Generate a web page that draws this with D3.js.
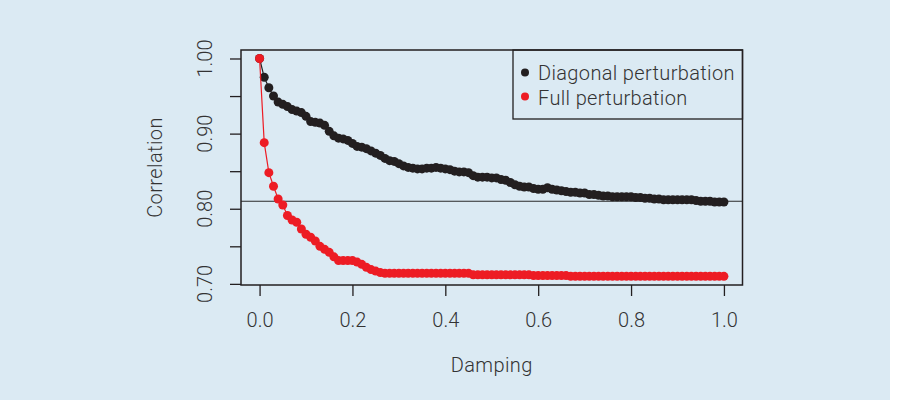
<!DOCTYPE html>
<meta charset="utf-8">
<script src="https://d3js.org/d3.v7.min.js"></script>
<style>
body{ margin:0; background:#fff; }
#chart text{ font-family: Roboto, sans-serif; font-weight:300; fill:#333; }
</style>
<div id="chart"></div>
<script>
// damping steps 0.00 .. 1.00
var damping = d3.range(0, 101).map(function(i){ return i / 100; });

var diagonal = [1.000, 0.975, 0.961, 0.950, 0.942, 0.939, 0.936, 0.932, 0.930, 0.928,
  0.923, 0.916, 0.915, 0.914, 0.911, 0.903, 0.897, 0.894, 0.893, 0.891,
  0.887, 0.883, 0.882, 0.880, 0.877, 0.874, 0.871, 0.867, 0.864, 0.863,
  0.860, 0.857, 0.855, 0.854, 0.853, 0.853, 0.854, 0.854, 0.855, 0.854,
  0.853, 0.852, 0.850, 0.849, 0.849, 0.848, 0.844, 0.842, 0.842, 0.842,
  0.841, 0.841, 0.839, 0.838, 0.835, 0.832, 0.830, 0.829, 0.829, 0.827,
  0.826, 0.826, 0.828, 0.826, 0.825, 0.824, 0.823, 0.822, 0.822, 0.821,
  0.821, 0.819, 0.819, 0.818, 0.817, 0.817, 0.816, 0.816, 0.816, 0.816,
  0.816, 0.815, 0.815, 0.814, 0.814, 0.813, 0.813, 0.812, 0.812, 0.812,
  0.812, 0.812, 0.812, 0.812, 0.811, 0.810, 0.810, 0.810, 0.809, 0.809,
  0.809];

var full = [1.000, 0.888, 0.848, 0.830, 0.813, 0.805, 0.791, 0.785, 0.782, 0.773,
  0.766, 0.762, 0.757, 0.750, 0.746, 0.742, 0.736, 0.731, 0.731, 0.731,
  0.731, 0.729, 0.726, 0.722, 0.719, 0.717, 0.715, 0.714, 0.714, 0.714,
  0.714, 0.714, 0.714, 0.714, 0.714, 0.714, 0.714, 0.714, 0.714, 0.714,
  0.714, 0.714, 0.714, 0.714, 0.714, 0.714, 0.712, 0.712, 0.712, 0.712,
  0.712, 0.712, 0.712, 0.712, 0.712, 0.712, 0.712, 0.712, 0.712, 0.711,
  0.711, 0.711, 0.711, 0.711, 0.711, 0.711, 0.711, 0.710, 0.710, 0.710,
  0.710, 0.710, 0.710, 0.710, 0.710, 0.710, 0.710, 0.710, 0.710, 0.710,
  0.710, 0.710, 0.710, 0.710, 0.710, 0.710, 0.710, 0.710, 0.710, 0.710,
  0.710, 0.710, 0.710, 0.710, 0.710, 0.710, 0.710, 0.710, 0.710, 0.710,
  0.710];

var xTicks = [0, 0.2, 0.4, 0.6, 0.8, 1.0];
var yTicks = [0.70, 0.75, 0.80, 0.85, 0.90, 0.95, 1.00];
var yLabelled = [0.70, 0.80, 0.90, 1.00];
var refLine = 0.81;
var seriesNames = ["Diagonal perturbation", "Full perturbation"];
var seriesColors = ["#231f20", "#ed1c24"];

var W = 902, H = 408;
var box = { left: 241, right: 742.5, top: 50, bottom: 285 };

var svg = d3.select("#chart").append("svg")
    .attr("width", W).attr("height", H);

svg.append("rect")
    .attr("x", 0).attr("y", 0)
    .attr("width", 890).attr("height", 400)
    .attr("fill", "#dbeaf3");

var x = d3.scaleLinear().domain([-0.04, 1.04]).range([box.left, box.right]);
var y = d3.scaleLinear().domain([0.6985, 1.0113]).range([box.bottom, box.top]);

// axes
var xAxis = svg.append("g")
    .attr("transform", "translate(0," + box.bottom + ")")
    .call(d3.axisBottom(x).tickValues(xTicks).tickSize(11).tickPadding(0).tickFormat(d3.format(".1f")));
xAxis.select(".domain").remove();
xAxis.selectAll("line").attr("stroke", "#231f20").attr("stroke-width", 1.3);
xAxis.selectAll("text")
    .attr("y", 42).attr("dy", null)
    .attr("font-size", "20px")
    .attr("fill", "#333");

var yAxis = svg.append("g")
    .attr("transform", "translate(" + box.left + ",0)")
    .call(d3.axisLeft(y).tickValues(yTicks).tickSize(11).tickFormat(""));
yAxis.select(".domain").remove();
yAxis.selectAll("line").attr("stroke", "#231f20").attr("stroke-width", 1.3);

svg.append("g").selectAll("text")
    .data(yLabelled)
    .join("text")
    .attr("transform", function(d){ return "translate(212," + y(d) + ") rotate(-90)"; })
    .attr("text-anchor", "middle")
    .attr("font-size", "20px")
    .text(function(d){ return d3.format(".2f")(d); });

svg.append("text")
    .attr("x", (x(0) + x(1)) / 2).attr("y", 372)
    .attr("text-anchor", "middle")
    .attr("font-size", "20px")
    .attr("letter-spacing", "0.4px")
    .text("Damping");

svg.append("text")
    .attr("transform", "translate(162," + ((box.top + box.bottom) / 2) + ") rotate(-90)")
    .attr("text-anchor", "middle")
    .attr("font-size", "20px")
    .attr("letter-spacing", "0.4px")
    .text("Correlation");

// reference line
svg.append("line")
    .attr("x1", box.left).attr("x2", box.right)
    .attr("y1", y(refLine)).attr("y2", y(refLine))
    .attr("stroke", "#2a2a2a").attr("stroke-width", 1.2);

// series
var series = [diagonal, full];
var line = d3.line()
    .x(function(d, i){ return x(damping[i]); })
    .y(function(d){ return y(d); });

series.forEach(function(vals, k){
  svg.append("path")
      .attr("d", line(vals))
      .attr("fill", "none")
      .attr("stroke", seriesColors[k])
      .attr("stroke-width", 1.2);
  svg.append("g").selectAll("circle")
      .data(vals)
      .join("circle")
      .attr("cx", function(d, i){ return x(damping[i]); })
      .attr("cy", function(d){ return y(d); })
      .attr("r", 4.5)
      .attr("fill", seriesColors[k]);
});

// plot box
svg.append("rect")
    .attr("x", box.left).attr("y", box.top)
    .attr("width", box.right - box.left).attr("height", box.bottom - box.top)
    .attr("fill", "none")
    .attr("stroke", "#231f20").attr("stroke-width", 1.5);

// legend
var legend = svg.append("g");
legend.append("rect")
    .attr("x", 513).attr("y", box.top)
    .attr("width", box.right - 513).attr("height", 69)
    .attr("fill", "none")
    .attr("stroke", "#231f20").attr("stroke-width", 1.3);
seriesNames.forEach(function(name, k){
  legend.append("circle")
      .attr("cx", 525).attr("cy", 72.5 + k * 24)
      .attr("r", 4)
      .attr("fill", seriesColors[k]);
  legend.append("text")
      .attr("x", 538).attr("y", 80 + k * 24.5)
      .attr("font-size", "20px")
      .attr("letter-spacing", "0.35px")
      .text(name);
});
</script>
